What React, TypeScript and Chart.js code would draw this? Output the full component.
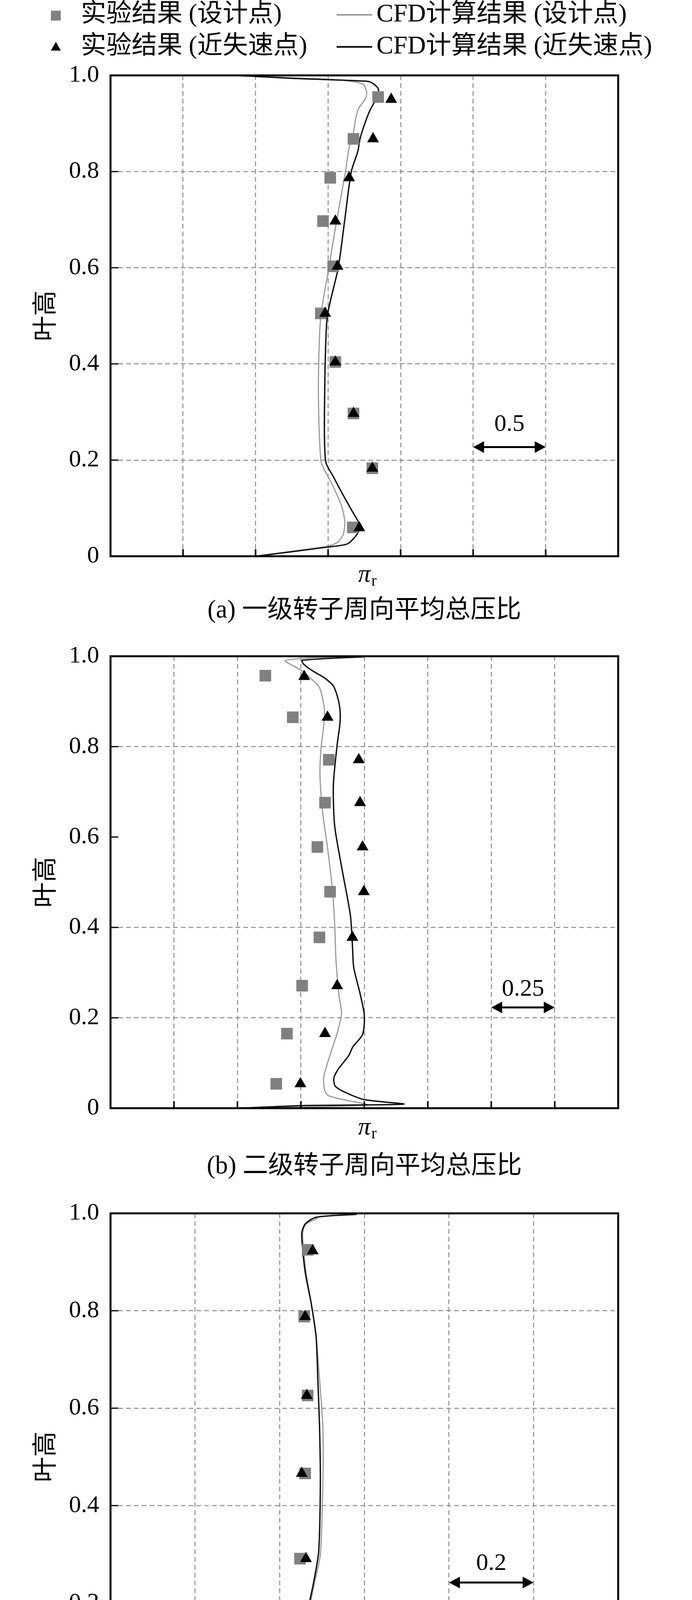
import * as React from "react";
import { useEffect, useRef } from "react";
import { Chart, registerables } from "chart.js";

Chart.register(...registerables);

const FONT = '"Liberation Serif", "Noto Sans CJK SC", serif';

const LABEL_EXP_DESIGN = "实验结果 (设计点)";
const LABEL_EXP_STALL = "实验结果 (近失速点)";
const LABEL_CFD_DESIGN = "CFD计算结果 (设计点)";
const LABEL_CFD_STALL = "CFD计算结果 (近失速点)";
const Y_LABEL = "叶高";

// ---- (a) 一级转子周向平均总压比 ----
const aSqX = [1.845, 1.675, 1.515, 1.465, 1.535, 1.45, 1.55, 1.675, 1.805, 1.67];
const aSqY = [0.955, 0.868, 0.787, 0.697, 0.603, 0.505, 0.404, 0.297, 0.183, 0.06];
const aTriX = [1.935, 1.81, 1.645, 1.55, 1.565, 1.48, 1.55, 1.675, 1.805, 1.715];
const aTriY = [0.95, 0.868, 0.787, 0.697, 0.603, 0.505, 0.404, 0.297, 0.183, 0.059];
const aGrayX = [1.0, 1.495, 1.565, 1.605, 1.615, 1.595, 1.555, 1.51, 1.47, 1.45, 1.435, 1.435, 1.45, 1.505, 1.56, 1.62, 1.64, 1.655, 1.675, 1.69, 1.71, 1.76, 1.765, 1.74, 1.6, 1.25, 0.85];
const aGrayY = [0, 0.021, 0.029, 0.046, 0.072, 0.103, 0.132, 0.16, 0.182, 0.2, 0.3, 0.4, 0.5, 0.6, 0.7, 0.8, 0.842, 0.862, 0.882, 0.91, 0.931, 0.953, 0.967, 0.982, 0.99, 0.995, 1.0];
const aBlackX = [1.0, 1.495, 1.635, 1.7, 1.72, 1.66, 1.595, 1.535, 1.485, 1.475, 1.475, 1.48, 1.495, 1.57, 1.615, 1.66, 1.705, 1.72, 1.75, 1.785, 1.815, 1.845, 1.845, 1.8, 1.76, 1.25, 0.86];
const aBlackY = [0, 0.019, 0.026, 0.046, 0.063, 0.097, 0.132, 0.166, 0.195, 0.25, 0.3, 0.4, 0.5, 0.6, 0.7, 0.8, 0.842, 0.868, 0.897, 0.925, 0.942, 0.96, 0.973, 0.985, 0.988, 0.994, 1.0];

// ---- (b) 二级转子周向平均总压比 ----
const bSqX = [0.61, 0.718, 0.86, 0.845, 0.815, 0.865, 0.823, 0.755, 0.695, 0.653];
const bSqY = [0.957, 0.865, 0.771, 0.676, 0.578, 0.479, 0.378, 0.271, 0.165, 0.054];
const bTriX = [0.763, 0.855, 0.978, 0.983, 0.993, 0.998, 0.953, 0.893, 0.845, 0.748];
const bTriY = [0.955, 0.865, 0.771, 0.676, 0.578, 0.479, 0.378, 0.271, 0.165, 0.054];
const bGrayX = [0.505, 1.013, 0.925, 0.858, 0.843, 0.84, 0.855, 0.875, 0.895, 0.91, 0.9, 0.888, 0.883, 0.873, 0.855, 0.835, 0.825, 0.83, 0.84, 0.843, 0.835, 0.823, 0.795, 0.745, 0.688, 0.775, 0.975];
const bGrayY = [0, 0.007, 0.018, 0.028, 0.041, 0.069, 0.1, 0.135, 0.17, 0.21, 0.25, 0.33, 0.41, 0.49, 0.576, 0.658, 0.741, 0.8, 0.847, 0.879, 0.908, 0.931, 0.948, 0.971, 0.99, 0.996, 1.0];
const bBlackX = [0.505, 0.775, 1.155, 1.0, 0.925, 0.885, 0.88, 0.898, 0.938, 0.955, 0.993, 1.0, 0.983, 0.958, 0.953, 0.945, 0.913, 0.883, 0.878, 0.893, 0.903, 0.905, 0.898, 0.878, 0.843, 0.795, 0.76, 0.755, 1.0];
const bBlackY = [0, 0.006, 0.009, 0.019, 0.035, 0.049, 0.067, 0.087, 0.116, 0.136, 0.163, 0.205, 0.254, 0.312, 0.361, 0.427, 0.526, 0.625, 0.716, 0.805, 0.847, 0.873, 0.902, 0.934, 0.952, 0.968, 0.983, 0.991, 0.999];

// ---- (c) 二级静子节距平均总压恢复系数 ----
const cSqX = [0.466, 0.458, 0.466, 0.46, 0.448, 0.476];
const cSqY = [0.925, 0.788, 0.626, 0.466, 0.291, 0.102];
const cTriX = [0.478, 0.46, 0.464, 0.452, 0.462, 0.5];
const cTriY = [0.923, 0.788, 0.626, 0.466, 0.291, 0.1];
const cGrayX = [0.72, 0.47, 0.462, 0.454, 0.458, 0.466, 0.482, 0.496, 0.502, 0.502, 0.494, 0.486, 0.474, 0.462, 0.454, 0.462, 0.49];
const cGrayY = [0.004, 0.014, 0.026, 0.06, 0.1, 0.17, 0.24, 0.3, 0.45, 0.56, 0.66, 0.746, 0.817, 0.88, 0.958, 0.978, 0.99];
const cBlackX = [0.98, 0.8, 0.598, 0.458, 0.45, 0.448, 0.454, 0.462, 0.464, 0.48, 0.492, 0.496, 0.494, 0.49, 0.486, 0.474, 0.46, 0.452, 0.46, 0.486, 0.582];
const cBlackY = [0, 0.006, 0.009, 0.013, 0.021, 0.042, 0.095, 0.122, 0.172, 0.242, 0.305, 0.447, 0.565, 0.659, 0.746, 0.817, 0.88, 0.958, 0.978, 0.992, 0.998];

const GRID_COLOR = "#8c8c8c";
const PLOT_LEFT = 283;
const PLOT_RIGHT = 1583;
const PAGE_W = 1772;
const TITLE_SIZE = 65;

const PANELS = [
  {
    key: "a", top: 0, height: 1610, plotTop: 193, plotBottom: 1424, titleY: 1564,
    title: "(a) 一级转子周向平均总压比", xMax: 3.5, step: 0.5, symbol: "π", sub: "r", symOffset: 48,
    hideGrid: [] as number[], legend: true,
    bar: { from: 2.5, to: 3.0, y: 0.227, label: "0.5", labelY: 0.274 },
    sqX: aSqX, sqY: aSqY, triX: aTriX, triY: aTriY, grayX: aGrayX, grayY: aGrayY, blackX: aBlackX, blackY: aBlackY,
  },
  {
    key: "b", top: 1610, height: 1430, plotTop: 1680, plotBottom: 2837, titleY: 2987,
    title: "(b) 二级转子周向平均总压比", xMax: 2.0, step: 0.25, symbol: "π", sub: "r", symOffset: 50,
    hideGrid: [0.6], legend: false,
    bar: { from: 1.5, to: 1.75, y: 0.223, label: "0.25", labelY: 0.263 },
    sqX: bSqX, sqY: bSqY, triX: bTriX, triY: bTriY, grayX: bGrayX, grayY: bGrayY, blackX: bBlackX, blackY: bBlackY,
  },
  {
    key: "c", top: 3040, height: 1507, plotTop: 3095, plotBottom: 4353, titleY: 4513,
    title: "(c) 二级静子节距平均总压恢复系数", xMax: 1.2, step: 0.2, symbol: "σ", sub: "s", symOffset: 67,
    hideGrid: [] as number[], legend: false,
    bar: { from: 0.8, to: 1.0, y: 0.242, label: "0.2", labelY: 0.281 },
    sqX: cSqX, sqY: cSqY, triX: cTriX, triY: cTriY, grayX: cGrayX, grayY: cGrayY, blackX: cBlackX, blackY: cBlackY,
  },
];

const pts = (xs: number[], ys: number[]) => xs.map((x, i) => ({ x, y: ys[i] }));

function drawMarker(ctx: CanvasRenderingContext2D, style: string, x: number, y: number, r: number, color: string) {
  ctx.fillStyle = color;
  ctx.beginPath();
  if (style === "rect") {
    const s = r * Math.SQRT1_2;
    ctx.rect(x - s, y - s, 2 * s, 2 * s);
  } else {
    const w = r * Math.sin(Math.PI / 3);
    ctx.moveTo(x, y - r);
    ctx.lineTo(x + w, y + r / 2);
    ctx.lineTo(x - w, y + r / 2);
    ctx.closePath();
  }
  ctx.fill();
}

const LEGEND_ROWS = [38, 120];
const LEGEND_ITEMS = [
  { label: LABEL_EXP_DESIGN, row: 0, col: 0 },
  { label: LABEL_CFD_DESIGN, row: 0, col: 1 },
  { label: LABEL_EXP_STALL, row: 1, col: 0 },
  { label: LABEL_CFD_STALL, row: 1, col: 1 },
];

const legendPlugin = {
  id: "blockLegend",
  afterDraw(chart: any, _args: any, opts: any) {
    if (!opts || !opts.show) return;
    const ctx: CanvasRenderingContext2D = chart.ctx;
    ctx.save();
    ctx.font = `65px ${FONT}`;
    ctx.textBaseline = "middle";
    ctx.textAlign = "left";
    LEGEND_ITEMS.forEach((item) => {
      const ds = chart.data.datasets.find((d: any) => d.label === item.label);
      const y = LEGEND_ROWS[item.row];
      if (item.col === 1) {
        ctx.strokeStyle = ds.borderColor;
        ctx.lineWidth = ds.borderWidth + 1;
        ctx.beginPath();
        ctx.moveTo(862, y);
        ctx.lineTo(953, y);
        ctx.stroke();
        ctx.fillStyle = "#000";
        ctx.fillText(ds.label, 964, y);
      } else {
        drawMarker(ctx, ds.pointStyle, 143, y + 2, ds.pointRadius * 0.85, ds.pointBackgroundColor);
        ctx.fillStyle = "#000";
        ctx.fillText(ds.label, 207, y);
      }
    });
    ctx.restore();
  },
};

const framePlugin = {
  id: "frame",
  afterDatasetsDraw(chart: any) {
    const ctx: CanvasRenderingContext2D = chart.ctx;
    const { left, right, top, bottom } = chart.chartArea;
    ctx.save();
    ctx.strokeStyle = "#000";
    ctx.lineWidth = 4;
    chart.scales.x.ticks.forEach((t: any, i: number, arr: any[]) => {
      if (i === 0 || i === arr.length - 1) return;
      const px = chart.scales.x.getPixelForValue(t.value);
      ctx.beginPath();
      ctx.moveTo(px, bottom);
      ctx.lineTo(px, bottom - 18);
      ctx.stroke();
    });
    ctx.lineWidth = 3;
    chart.scales.y.ticks.forEach((t: any, i: number, arr: any[]) => {
      if (i === 0 || i === arr.length - 1) return;
      const py = chart.scales.y.getPixelForValue(t.value);
      ctx.beginPath();
      ctx.moveTo(left, py);
      ctx.lineTo(left + 20, py);
      ctx.stroke();
    });
    ctx.lineWidth = 5;
    ctx.strokeRect(left, top, right - left, bottom - top);
    ctx.restore();
  },
};

const scaleBarPlugin = {
  id: "scaleBar",
  afterDraw(chart: any, _args: any, opts: any) {
    const ctx: CanvasRenderingContext2D = chart.ctx;
    const xs = chart.scales.x;
    const ys = chart.scales.y;
    const x0 = xs.getPixelForValue(opts.from);
    const x1 = xs.getPixelForValue(opts.to);
    const y = ys.getPixelForValue(opts.y);
    const head = 28;
    const hh = 15;
    ctx.save();
    ctx.strokeStyle = "#000";
    ctx.fillStyle = "#000";
    ctx.lineWidth = 5;
    ctx.beginPath();
    ctx.moveTo(x0 + head - 2, y);
    ctx.lineTo(x1 - head + 2, y);
    ctx.stroke();
    ctx.beginPath();
    ctx.moveTo(x0, y);
    ctx.lineTo(x0 + head, y - hh);
    ctx.lineTo(x0 + head, y + hh);
    ctx.closePath();
    ctx.fill();
    ctx.beginPath();
    ctx.moveTo(x1, y);
    ctx.lineTo(x1 - head, y - hh);
    ctx.lineTo(x1 - head, y + hh);
    ctx.closePath();
    ctx.fill();
    ctx.font = `62px ${FONT}`;
    ctx.textAlign = "center";
    ctx.textBaseline = "middle";
    ctx.fillText(opts.label, (x0 + x1) / 2, ys.getPixelForValue(opts.labelY));
    ctx.restore();
  },
};

const axisSymbolPlugin = {
  id: "axisSymbol",
  afterDraw(chart: any, _args: any, opts: any) {
    const ctx: CanvasRenderingContext2D = chart.ctx;
    const { left, right, bottom } = chart.chartArea;
    const cx = (left + right) / 2;
    const y = bottom + opts.offset;
    ctx.save();
    ctx.fillStyle = "#000";
    ctx.textBaseline = "middle";
    ctx.textAlign = "center";
    ctx.font = `italic 64px ${FONT}`;
    ctx.fillText(opts.symbol, cx, y);
    const w = ctx.measureText(opts.symbol).width;
    ctx.font = `40px ${FONT}`;
    ctx.textAlign = "left";
    ctx.fillText(opts.sub, cx + w / 2 + 2, y + 16);
    ctx.restore();
  },
};

type PanelCfg = (typeof PANELS)[number];

function Panel({ p }: { p: PanelCfg }) {
  const canvasRef = useRef<HTMLCanvasElement>(null);

  useEffect(() => {
    const canvas = canvasRef.current;
    if (!canvas) return;
    const plotTop = p.plotTop - p.top;
    const plotBottom = p.plotBottom - p.top;
    const titleY = p.titleY - p.top;
    const xScaleH = titleY - TITLE_SIZE / 2 - plotBottom;
    const padBottom = p.height - titleY - TITLE_SIZE / 2;
    const gridColor = (c: any) =>
      c.tick && p.hideGrid.some((h) => Math.abs(c.tick.value - h) < 1e-6) ? "rgba(0,0,0,0)" : GRID_COLOR;

    const chart = new Chart(canvas, {
      type: "scatter",
      data: {
        datasets: [
          {
            label: LABEL_EXP_STALL,
            data: pts(p.triX, p.triY),
            showLine: false,
            pointStyle: "triangle",
            pointRadius: 17.5,
            pointBackgroundColor: "#000",
            pointBorderColor: "#000",
            pointBorderWidth: 0,
          },
          {
            label: LABEL_EXP_DESIGN,
            data: pts(p.sqX, p.sqY),
            showLine: false,
            pointStyle: "rect",
            pointRadius: 21,
            pointBackgroundColor: "#808080",
            pointBorderColor: "#808080",
            pointBorderWidth: 0,
          },
          {
            label: LABEL_CFD_STALL,
            data: pts(p.blackX, p.blackY),
            showLine: true,
            borderColor: "#111111",
            borderWidth: 3.5,
            pointRadius: 0,
            tension: 0.25,
          },
          {
            label: LABEL_CFD_DESIGN,
            data: pts(p.grayX, p.grayY),
            showLine: true,
            borderColor: "#9a9a9a",
            borderWidth: 3,
            pointRadius: 0,
            tension: 0.25,
          },
        ] as any,
      },
      options: {
        animation: false,
        responsive: false,
        devicePixelRatio: 1,
        events: [],
        layout: { padding: { top: plotTop, right: PAGE_W - PLOT_RIGHT, bottom: padBottom, left: 0 } },
        scales: {
          x: {
            type: "linear",
            min: 0,
            max: p.xMax,
            ticks: { display: false, stepSize: p.step },
            grid: { color: GRID_COLOR, lineWidth: 2.5, drawTicks: false },
            border: { display: false, dash: [12, 8] },
            afterFit: (s: any) => { s.height = xScaleH; },
          },
          y: {
            type: "linear",
            min: 0,
            max: 1,
            ticks: {
              stepSize: 0.2,
              padding: 29,
              color: "#000",
              font: { size: 62, family: FONT },
              callback: (v: any) => (Number(v) === 0 ? "0" : Number(v).toFixed(1)),
            },
            grid: { color: gridColor, lineWidth: 2.5, drawTicks: false },
            border: { display: false, dash: [12, 8] },
            title: {
              display: true,
              text: Y_LABEL,
              color: "#000",
              font: { size: 65, family: FONT, lineHeight: 1 },
              padding: { top: 87, bottom: 0 },
            },
            afterFit: (s: any) => { s.width = PLOT_LEFT; },
          },
        },
        plugins: {
          legend: { display: false },
          tooltip: { enabled: false },
          title: {
            display: true,
            text: p.title,
            position: "bottom",
            fullSize: false,
            color: "#000",
            font: { size: TITLE_SIZE, family: FONT, weight: "normal", lineHeight: 1 },
            padding: 0,
          },
          blockLegend: { show: p.legend },
          scaleBar: p.bar,
          axisSymbol: { symbol: p.symbol, sub: p.sub, offset: p.symOffset },
        } as any,
      },
      plugins: [framePlugin, legendPlugin, scaleBarPlugin, axisSymbolPlugin],
    });

    return () => {
      chart.destroy();
    };
  }, [p]);

  return (
    <canvas
      ref={canvasRef}
      width={PAGE_W}
      height={p.height}
      style={{ position: "absolute", left: 0, top: p.top, width: PAGE_W, height: p.height }}
    />
  );
}

export default function App() {
  return (
    <div style={{ position: "absolute", left: 0, top: 0, width: PAGE_W, height: 4547, background: "#fff" }}>
      {PANELS.map((p) => (
        <Panel key={p.key} p={p} />
      ))}
    </div>
  );
}
